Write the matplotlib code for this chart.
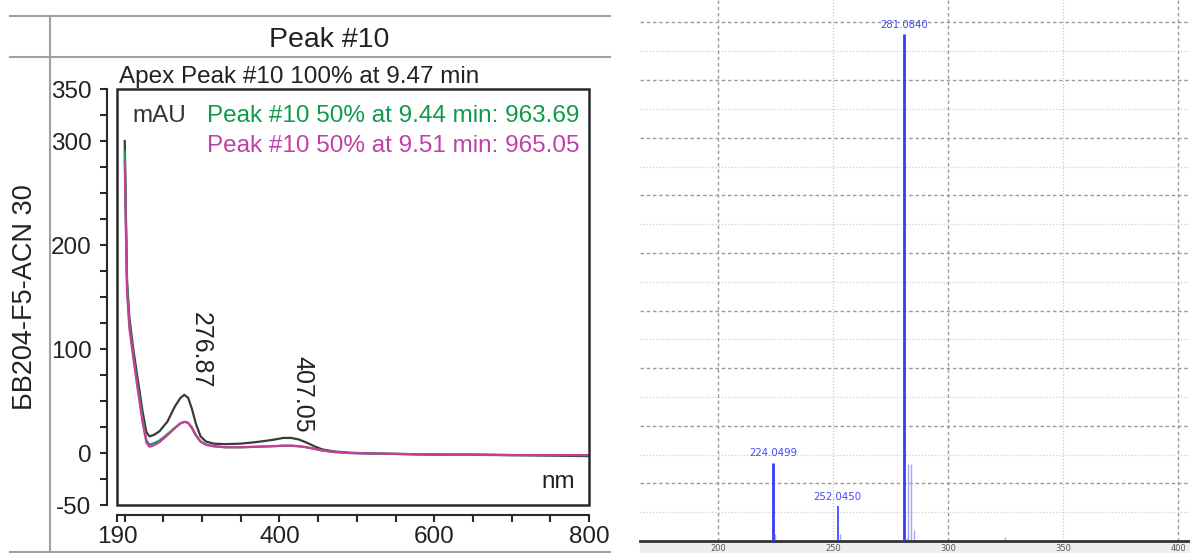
import matplotlib
matplotlib.use("Agg")
import matplotlib.pyplot as plt
from matplotlib.lines import Line2D
from matplotlib.patches import Rectangle
import numpy as np

plt.rcParams['font.family'] = ['Liberation Sans', 'DejaVu Sans']

# UV spectrum (nm vs mAU)
wl = [200, 201.5, 203, 206, 211, 217, 223, 228, 232, 238, 245, 255, 265, 272, 277,
      282, 287, 292, 298, 305, 315, 330, 350, 370, 390, 405, 415, 425, 435, 445,
      455, 470, 490, 520, 560, 600, 650, 700, 750, 800]
apex = [300, 230, 165, 130, 100, 70, 40, 20, 16, 17.5, 21, 30, 45, 53, 56,
        53, 42, 28, 16, 11, 9, 8.5, 9, 10.5, 12.5, 14.5, 14.5, 13, 10, 6.5,
        3.5, 1.5, 0.3, -0.5, -1, -1.5, -1.5, -2, -2.5, -3]
front50 = [290, 222, 160, 124, 95, 63, 33, 12, 8, 9.5, 12, 18, 24.5, 28.5, 30,
           29, 24, 17, 11, 8, 6.5, 5.5, 5.5, 6, 6.5, 7, 7, 6.5, 5.5, 4,
           2.5, 1, 0, -0.5, -1, -1.5, -1.8, -2, -2, -2]
tail50 = [280, 215, 155, 120, 92, 60, 30, 10, 6, 7.5, 10.5, 17, 24, 28.5, 30,
          29, 24, 17, 11, 8, 6.5, 5.5, 5.5, 6, 6.5, 7, 7, 6.5, 5.5, 4,
          2.5, 1, 0, -0.5, -1, -1.5, -1.8, -2, -2, -2]
peak_wl = [276.87, 407.05]

# mass spectrum
ms_mz = [224.0499, 252.0450, 281.0840]
ms_int = [13.6, 6.1, 88.0]
sat_mz = [224.9, 252.9, 282.0, 282.4, 283.9, 285.2, 324.8]
sat_int = [1.3, 1.3, 0.5, 13.4, 13.4, 1.9, 0.7]

W, H = 1190, 553


def fx(px):
    return px / W


def fy(py):
    return 1 - py / H


fig = plt.figure(figsize=(W / 100, H / 100), dpi=100)

# ---- left panel frame (table lines)
grey = '#a0a0a0'
for y in (16, 57, 552):
    fig.add_artist(Line2D([fx(10), fx(610)], [fy(y), fy(y)], color=grey, lw=1.5))
fig.add_artist(Line2D([fx(50), fx(50)], [fy(16), fy(553)], color=grey, lw=1.5))

fig.text(fx(329), fy(47), 'Peak #10', fontsize=20.5, ha='center', va='baseline', color='#222')
fig.text(fx(119), fy(83), 'Apex Peak #10 100% at 9.47 min', fontsize=17.5,
         ha='left', va='baseline', color='#222')
fig.text(fx(25), fy(297), 'БB204-F5-ACN 30', fontsize=19.5, rotation=90,
         ha='center', va='center', color='#222')

ax = fig.add_axes([fx(117), fy(505), (589 - 117) / W, (505 - 89) / H])
ax.plot(wl, apex, color='#3a3a3a', lw=1.6, zorder=3)
ax.plot(wl, front50, color='#12a050', lw=1.6, zorder=4)
ax.plot(wl, tail50, color='#c83c9c', lw=1.6, zorder=5)
ax.set_xlim(190, 800)
ax.set_ylim(-50, 350)

for s in ('top', 'right'):
    ax.spines[s].set_visible(False)
for s in ('left', 'bottom'):
    ax.spines[s].set_position(('outward', 7.3))
    ax.spines[s].set_color('#2a2a2a')
    ax.spines[s].set_linewidth(1.5)
ax.add_patch(Rectangle((0, 0), 1, 1, transform=ax.transAxes, fill=False,
                       ec='#2a2a2a', lw=1.8, clip_on=False, zorder=6))

yt = np.arange(-50, 351, 25)
ax.set_yticks(yt)
ax.set_yticklabels([str(v) if v in (-50, 0, 100, 200, 300, 350) else '' for v in yt])
xt = [190] + list(range(200, 801, 50))
ax.set_xticks(xt)
ax.set_xticklabels([str(v) if v in (190, 400, 600, 800) else '' for v in xt])
ax.tick_params(length=5, width=1.5, color='#2a2a2a', labelsize=17.5,
               labelcolor='#222', pad=3)
ax.tick_params(axis='y', pad=6)

fig.text(fx(132), fy(121.7), 'mAU', fontsize=17.5, va='baseline', color='#333')
fig.text(fx(206.7), fy(121.7), 'Peak #10 50% at 9.44 min: 963.69', fontsize=17.5,
         va='baseline', color='#0e9a4a')
fig.text(fx(206.7), fy(151.7), 'Peak #10 50% at 9.51 min: 965.05', fontsize=17.5,
         va='baseline', color='#c040a8')
fig.text(fx(541), fy(488.3), 'nm', fontsize=17.5, va='baseline', color='#222')

fig.text(fx(201), fy(350), f'{peak_wl[0]:.2f}', fontsize=18, rotation=270,
         ha='center', va='center', color='#222')
fig.text(fx(302.5), fy(394), f'{peak_wl[1]:.2f}', fontsize=18, rotation=270,
         ha='center', va='center', color='#222')

# ---- right panel: mass spectrum
fig.add_artist(Rectangle((fx(640), fy(553)), (1190 - 640) / W, 12 / H,
                         transform=fig.transFigure, color='#eeeeee', zorder=0))
ax2 = fig.add_axes([fx(640), fy(541), (1190 - 640) / W, 541 / H])
ax2.set_xlim(166.1, 405.2)
ax2.set_ylim(0, 93.9)
for v in np.arange(5, 94, 10):
    ax2.axhline(v, color='#d0d0d0', lw=0.9, ls=(0, (1, 1.5)), zorder=0)
for v in np.arange(10, 94, 10):
    ax2.axhline(v, color='#9a9a9a', lw=1.0, ls=(0, (2.5, 2)), zorder=0)
for v in (200, 300, 400):
    ax2.axvline(v, color='#9a9a9a', lw=1.0, ls=(0, (2.5, 2)), zorder=0)
for v in (250, 350):
    ax2.axvline(v, color='#c8c8c8', lw=0.9, ls=(0, (1, 1.5)), zorder=0)

ax2.vlines(sat_mz, 0, sat_int, color='#a4a4ff', lw=1.0, zorder=2)
ax2.vlines(ms_mz, 0, ms_int, color='#3a3aff', lw=[2.0, 1.2, 2.0], zorder=3)
for m, h in zip(ms_mz, ms_int):
    ax2.annotate(f'{m:.4f}', (m, h), xytext=(0, 3), textcoords='offset points',
                 ha='center', va='bottom', fontsize=7.3, color='#4646ff',
                 family='DejaVu Sans')

for s in ('top', 'right', 'left'):
    ax2.spines[s].set_visible(False)
ax2.spines['bottom'].set_color('#333')
ax2.spines['bottom'].set_linewidth(2)
ax2.set_yticks([])
ax2.set_xticks([200, 250, 300, 350, 400])
ax2.tick_params(axis='x', length=0, pad=2, labelsize=6, labelcolor='#555')
for lab in ax2.get_xticklabels():
    lab.set_family('DejaVu Sans')

fig.savefig('out.png', dpi=100)
